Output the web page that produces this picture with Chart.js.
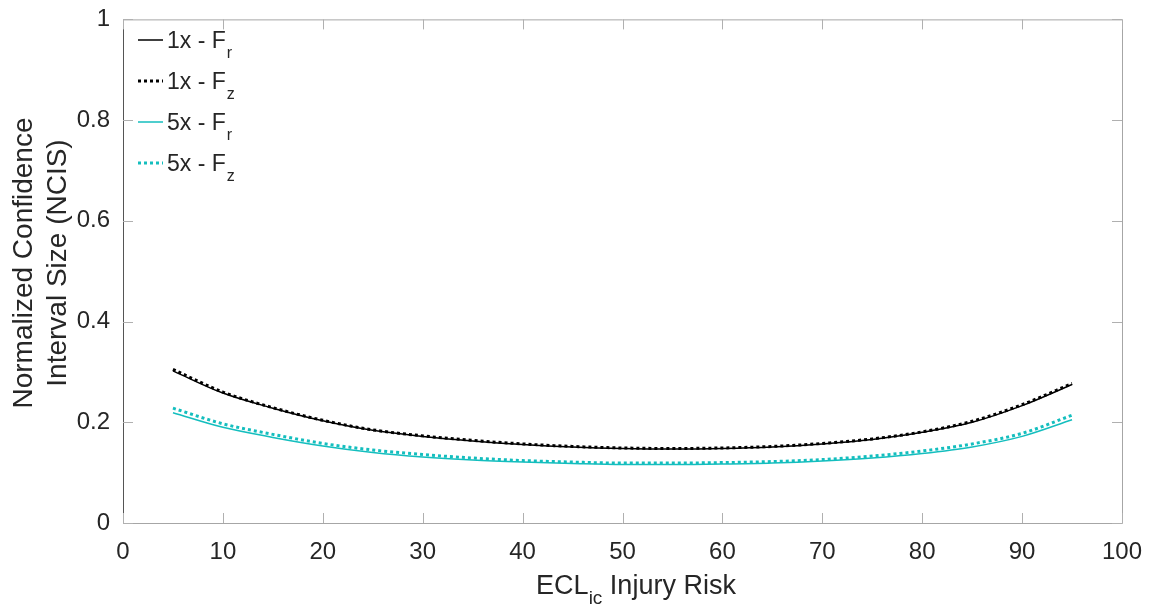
<!DOCTYPE html>
<html>
<head>
<meta charset="utf-8">
<script src="https://cdn.jsdelivr.net/npm/chart.js@4/dist/chart.umd.min.js"></script>
<style>
html,body{margin:0;padding:0;background:#fff;}
#c{display:block;}
</style>
</head>
<body>
<canvas id="c" width="1158" height="612"></canvas>
<script>
// ---- data ----
const injuryRisk = [5,10,15,20,25,30,35,40,45,50,55,60,65,70,75,80,85,90,95];
const ncis1xFr = [0.302,0.258,0.228,0.203,0.184,0.172,0.163,0.156,0.151,0.148,0.147,0.148,0.151,0.157,0.166,0.180,0.200,0.233,0.275];
const ncis1xFz = [0.305,0.260,0.229,0.204,0.185,0.173,0.164,0.157,0.152,0.149,0.148,0.149,0.152,0.158,0.167,0.181,0.202,0.235,0.277];
const ncis5xFr = [0.219,0.190,0.170,0.153,0.140,0.131,0.125,0.121,0.118,0.116,0.116,0.117,0.119,0.123,0.129,0.138,0.151,0.172,0.205];
const ncis5xFz = [0.228,0.197,0.176,0.158,0.145,0.136,0.129,0.124,0.121,0.119,0.119,0.120,0.122,0.126,0.133,0.143,0.157,0.178,0.214];
const legendMain = ["1x - F","1x - F","5x - F","5x - F"];
const legendSub = ["r","z","r","z"];
const xTickValues = [0,10,20,30,40,50,60,70,80,90,100];
const yTickValues = [0,0.2,0.4,0.6,0.8,1];
const xTitleMain = "ECL";
const xTitleSub = "ic";
const xTitleRest = " Injury Risk";
const yTitleLines = ["Normalized Confidence","Interval Size (NCIS)"];

const BLACK = "#000000";
const CYAN = "#14BEBE";
const TXT = "#262626";
const FONT = "'Liberation Sans', Arial, sans-serif";

function pts(arr){ return injuryRisk.map((x,i)=>({x:x,y:arr[i]})); }

const datasets = [
  {label: legendMain[1]+legendSub[1], data: pts(ncis1xFz), borderColor: BLACK, borderWidth: 3, borderDash:[3,3], dash:true},
  {label: legendMain[0]+legendSub[0], data: pts(ncis1xFr), borderColor: BLACK, borderWidth: 1.5, dash:false},
  {label: legendMain[3]+legendSub[3], data: pts(ncis5xFz), borderColor: CYAN, borderWidth: 3, borderDash:[3,3], dash:true},
  {label: legendMain[2]+legendSub[2], data: pts(ncis5xFr), borderColor: CYAN, borderWidth: 1.5, dash:false}
];
datasets.forEach(d=>{ d.pointRadius=0; d.fill=false; d.cubicInterpolationMode='monotone'; });
const legendOrder = [0,1,2,3];

const decor = {
  id:'decor',
  afterDraw(chart){
    const ctx = chart.ctx;
    const a = chart.chartArea;
    const xs = chart.scales.x, ys = chart.scales.y;
    ctx.save();
    // box
    ctx.lineWidth = 1;
    ctx.strokeStyle = "#a6a6a6";
    ctx.beginPath();
    ctx.moveTo(a.left, a.top+0.5); ctx.lineTo(a.right+0.5, a.top+0.5);
    ctx.lineTo(a.right+0.5, a.bottom+0.5); ctx.lineTo(a.left, a.bottom+0.5);
    ctx.stroke();
    ctx.strokeStyle = "#555";
    ctx.beginPath();
    ctx.moveTo(a.left+0.5, a.top); ctx.lineTo(a.left+0.5, a.bottom+1);
    ctx.stroke();
    // inward ticks
    ctx.strokeStyle = "#b0b0b0";
    const tl = 10;
    ctx.beginPath();
    xTickValues.forEach(v=>{
      const px = Math.round(xs.getPixelForValue(v))+0.5;
      ctx.moveTo(px, a.bottom); ctx.lineTo(px, a.bottom-tl);
      ctx.moveTo(px, a.top); ctx.lineTo(px, a.top+tl);
    });
    yTickValues.forEach(v=>{
      const py = Math.round(ys.getPixelForValue(v))+0.5;
      ctx.moveTo(a.left, py); ctx.lineTo(a.left+tl, py);
      ctx.moveTo(a.right, py); ctx.lineTo(a.right-tl, py);
    });
    ctx.stroke();

    // legend
    const rowY = [40, 81, 122, 163];
    legendOrder.forEach((li, r)=>{
      const ds = chart.data.datasets.find(d=>d.label===legendMain[li]+legendSub[li]);
      const y = rowY[r];
      ctx.strokeStyle = ds.borderColor;
      ctx.lineWidth = ds.dash ? 3 : 1.5;
      ctx.setLineDash(ds.dash ? [3,3] : []);
      ctx.beginPath();
      ctx.moveTo(138, y); ctx.lineTo(163, y);
      ctx.stroke();
      ctx.setLineDash([]);
      ctx.fillStyle = TXT;
      ctx.textBaseline = 'alphabetic';
      ctx.textAlign = 'left';
      ctx.font = "23px " + FONT;
      const base = y + 8;
      ctx.fillText(legendMain[li], 167, base);
      const w = ctx.measureText(legendMain[li]).width;
      ctx.font = "16px " + FONT;
      ctx.fillText(legendSub[li], 167 + w + 1, base + 10);
    });

    // x title
    ctx.fillStyle = TXT;
    ctx.textBaseline = 'alphabetic';
    ctx.textAlign = 'left';
    ctx.font = "27px " + FONT;
    const w1 = ctx.measureText(xTitleMain).width;
    const w3 = ctx.measureText(xTitleRest).width;
    ctx.font = "19px " + FONT;
    const w2 = ctx.measureText(xTitleSub).width;
    const total = w1 + w2 + w3;
    const cx = 636;
    let sx = cx - total/2;
    const by = 594;
    ctx.font = "27px " + FONT;
    ctx.fillText(xTitleMain, sx, by);
    ctx.font = "19px " + FONT;
    ctx.fillText(xTitleSub, sx + w1, by + 10);
    ctx.font = "27px " + FONT;
    ctx.fillText(xTitleRest, sx + w1 + w2, by);

    // y title
    ctx.font = "28px " + FONT;
    ctx.textAlign = 'center';
    ctx.textBaseline = 'middle';
    const cy = 263;
    [24, 58].forEach((xx, i)=>{
      ctx.save();
      ctx.translate(xx, cy);
      ctx.rotate(-Math.PI/2);
      ctx.fillText(yTitleLines[i], 0, 0);
      ctx.restore();
    });
    ctx.restore();
  }
};

new Chart(document.getElementById('c'), {
  type: 'line',
  data: { datasets: datasets },
  options: {
    responsive: false,
    devicePixelRatio: 1,
    animation: false,
    layout: { padding: { top: 18, right: 36, left: 0, bottom: 0 } },
    plugins: { legend: { display: false }, tooltip: { enabled: false } },
    scales: {
      x: {
        type: 'linear', min: 0, max: 100,
        grid: { display: false },
        border: { display: false },
        ticks: { stepSize: 10, color: TXT, font: { family: FONT, size: 24 }, padding: 7, maxRotation: 0 },
        afterFit(s){ s.height = 89; }
      },
      y: {
        type: 'linear', min: 0, max: 1,
        grid: { display: false },
        border: { display: false },
        ticks: { stepSize: 0.2, color: TXT, font: { family: FONT, size: 24 }, padding: 5,
                 callback: v => String(Math.round(v*10)/10) },
        afterFit(s){ s.width = 123; }
      }
    }
  },
  plugins: [decor]
});
</script>
</body>
</html>
